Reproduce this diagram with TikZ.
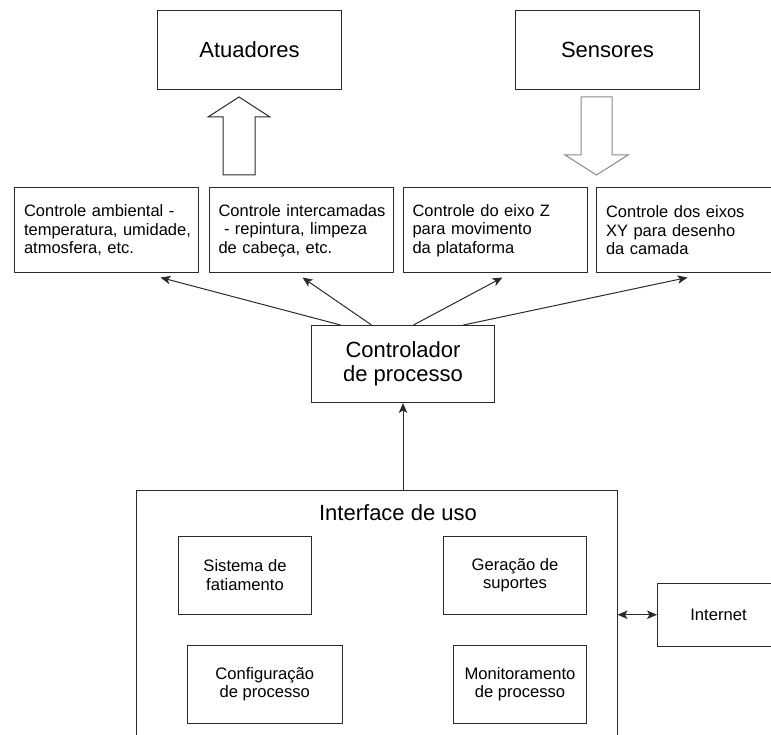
\documentclass[tikz,border=0pt]{standalone}
\usepackage{fontspec}
\setmainfont{Liberation Sans}
\usetikzlibrary{arrows.meta}

\definecolor{ink}{HTML}{2B2B2B}
\definecolor{softink}{HTML}{8A8A8A}

% one unbreakable line of a task description
\newcommand{\taskline}[1]{\mbox{#1}}

\tikzset{
  x=1pt, y=-1pt,
  >={Stealth[length=10pt,width=8.5pt,inset=2.5pt]},
  box/.style={draw=ink, line width=1pt, inner sep=0pt, anchor=north west,
    font=\fontsize{16.6}{18.6}\selectfont, align=center},
  bigbox/.style={box, font=\fontsize{22}{24.5}\selectfont},
  taskbox/.style={box, minimum height=85pt, text width=165pt, inner xsep=9.5pt,
    align=left, font=\fontsize{16.5}{18.5}\selectfont},
  modbox/.style={box, minimum height=77.5pt},
  conn/.style={draw=ink, line width=1pt, ->},
  blockarrow/.style={line width=1pt, line join=miter},
}

\begin{document}
\begin{tikzpicture}
\path[use as bounding box, clip] (0,0) rectangle (771,735);

% actuators and sensors
\node[bigbox, minimum width=184pt, minimum height=79pt] (atu) at (157,10) {Atuadores};
\node[bigbox, minimum width=184pt, minimum height=79pt] (sen) at (515,10) {Sensores};

% hollow block arrows
\draw[blockarrow, draw=ink] (223,175) -- (223,117) -- (208,117) -- (239,97)
  -- (270,117) -- (255,117) -- (255,175) -- cycle;
\draw[blockarrow, draw=softink] (581,97) -- (612,97) -- (612,155) -- (628,155)
  -- (596.5,175) -- (565,155) -- (581,155) -- cycle;

% control tasks
\node[taskbox] (amb) at (14,187.5)
  {\taskline{Controle ambiental -}\\\taskline{temperatura, umidade,}\\\taskline{atmosfera, etc.}};
\node[taskbox] (inter) at (208.5,187.5)
  {\taskline{Controle intercamadas}\\\taskline{\ - repintura, limpeza}\\\taskline{de cabeça, etc.}};
\node[taskbox] (eixoz) at (402.5,187.5)
  {\taskline{Controle do eixo Z}\\\taskline{para movimento}\\\taskline{da plataforma}};
\node[taskbox] (eixoxy) at (596,187.5)
  {\taskline{Controle dos eixos}\\\taskline{XY para desenho}\\\taskline{da camada}};

% process controller
\node[bigbox, minimum width=183pt, minimum height=77pt] (ctrl) at (311,325) {Controlador\\de processo};

\draw[conn] ([xshift=-62.5pt]ctrl.north) -- ([xshift=54pt,yshift=-4pt]amb.south);
\draw[conn] ([xshift=-31.5pt]ctrl.north) -- ([xshift=1.5pt,yshift=-4pt]inter.south);
\draw[conn] ([xshift=10.5pt]ctrl.north) -- ([xshift=7.5pt,yshift=-4pt]eixoz.south);
\draw[conn] ([xshift=60.5pt]ctrl.north) -- ([xshift=-1pt,yshift=-4pt]eixoxy.south);

% user interface
\node[box, minimum width=480.5pt, minimum height=270pt] (iface) at (136,490) {};
\node[font=\fontsize{22}{24.5}\selectfont, inner sep=0pt] (ifacetitle) at (398,512.5) {Interface de uso};

\node[modbox, minimum width=133pt] (slice) at (178,536) {Sistema de\\fatiamento};
\node[modbox, minimum width=143pt] (supp) at (443,536) {Geração de\\suportes};
\node[modbox, minimum width=155.5pt] (conf) at (186.5,645) {Configuração\\de processo};
\node[modbox, minimum width=133pt] (mon) at (453,645) {Monitoramento\\de processo};

\draw[conn] (ctrl.south |- iface.north) -- (ctrl.south);

% internet link
\node[box, minimum width=122pt, minimum height=62.5pt] (net) at (657,583) {Internet};
\draw[conn, <->] (iface.east |- net.west) -- (net.west);
\end{tikzpicture}
\end{document}
